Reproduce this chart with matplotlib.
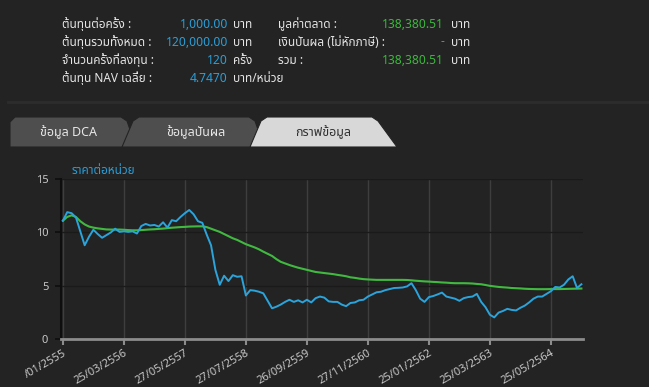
import matplotlib
matplotlib.use("Agg")
import matplotlib.pyplot as plt
from matplotlib import font_manager
from matplotlib.ft2font import FT2Font
from matplotlib.patches import Polygon

# ---- data ----
price = [11.1, 11.9, 11.8, 11.4, 10.1, 8.8, 9.6, 10.25, 9.85, 9.5,
         9.75, 10.0, 10.35, 10.05, 10.1, 10.05, 10.1, 9.9, 10.6, 10.8,
         10.65, 10.7, 10.55, 10.95, 10.45, 11.15, 11.05, 11.45, 11.8, 12.1,
         11.7, 11.05, 10.9, 9.8, 8.8, 6.5, 5.1, 5.95, 5.45, 6.0,
         5.85, 5.9, 4.1, 4.6, 4.55, 4.45, 4.3, 3.6, 2.9, 3.05,
         3.25, 3.5, 3.7, 3.5, 3.65, 3.45, 3.7, 3.45, 3.85, 4.0,
         3.9, 3.55, 3.5, 3.5, 3.25, 3.1, 3.4, 3.45, 3.65, 3.7,
         4.0, 4.2, 4.4, 4.45, 4.6, 4.7, 4.8, 4.82, 4.85, 4.95,
         5.25, 4.6, 3.8, 3.5, 3.95, 4.05, 4.2, 4.37, 4.0, 3.9,
         3.8, 3.6, 3.85, 3.95, 4.0, 4.25, 3.5, 3.0, 2.3, 2.05,
         2.5, 2.65, 2.85, 2.75, 2.7, 2.95, 3.15, 3.45, 3.8, 4.0,
         4.0, 4.25, 4.5, 4.9, 4.85, 5.1, 5.6, 5.9, 4.8, 5.15]

avg_cost = [11.1, 11.45, 11.6, 11.45, 11.05, 10.75, 10.55, 10.45, 10.38, 10.33,
            10.28, 10.27, 10.27, 10.27, 10.25, 10.22, 10.2, 10.2, 10.22, 10.25,
            10.28, 10.3, 10.33, 10.36, 10.4, 10.44, 10.47, 10.5, 10.52, 10.55,
            10.56, 10.57, 10.57, 10.5, 10.35, 10.2, 10.05, 9.85, 9.65, 9.45,
            9.3, 9.1, 8.9, 8.75, 8.6, 8.42, 8.2, 8.0, 7.8, 7.5,
            7.25, 7.1, 6.95, 6.82, 6.7, 6.6, 6.5, 6.4, 6.3, 6.25,
            6.2, 6.15, 6.1, 6.03, 5.97, 5.9, 5.8, 5.75, 5.68, 5.63,
            5.6, 5.58, 5.56, 5.56, 5.56, 5.56, 5.56, 5.56, 5.56, 5.55,
            5.52, 5.48, 5.45, 5.42, 5.4, 5.37, 5.35, 5.32, 5.3, 5.27,
            5.25, 5.25, 5.25, 5.24, 5.22, 5.18, 5.15, 5.08, 5.0, 4.95,
            4.9, 4.87, 4.84, 4.8, 4.78, 4.76, 4.73, 4.71, 4.7, 4.69,
            4.69, 4.69, 4.7, 4.7, 4.7, 4.71, 4.72, 4.73, 4.74, 4.75]

tick_idx = [0, 14, 28, 42, 56, 70, 84, 98, 112]
tick_labels = ["/01/2555", "25/03/2556", "27/05/2557", "27/07/2558", "26/09/2559",
               "27/11/2560", "25/01/2562", "25/03/2563", "25/05/2564"]

left_labels = ["ต้นทุนต่อครั้ง :", "ต้นทุนรวมทั้งหมด :", "จำนวนครั้งที่ลงทุน :", "ต้นทุน NAV เฉลี่ย :"]
left_values = ["1,000.00", "120,000.00", "120", "4.7470"]
left_units = ["บาท", "บาท", "ครั้ง", "บาท/หน่วย"]
right_labels = ["มูลค่าตลาด :", "เงินปันผล (ไม่หักภาษี) :", "รวม :"]
right_values = ["138,380.51", "-", "138,380.51"]
right_colors = ["#3cb83c", "#2a9fd8", "#3cb83c"]
tabs = ["ข้อมูล DCA", "ข้อมูลปันผล", "กราฟข้อมูล"]


def find_thai_font():
    prefer = ["Tahoma", "Noto Sans Thai", "Noto Sans Thai UI", "Leelawadee UI",
              "Loma", "Garuda", "Sarabun", "Waree", "Umpush", "Kinnari", "Norasi"]
    found = {}
    for f in font_manager.fontManager.ttflist:
        if f.name in found:
            continue
        try:
            cmap = FT2Font(f.fname).get_charmap()
        except Exception:
            continue
        if 0x0E01 in cmap and 0x0E49 in cmap:
            found[f.name] = f.fname
    for p in prefer:
        if p in found:
            return p
    return next(iter(found), None)


thai = find_thai_font()
fams = [thai, "DejaVu Sans"] if thai else ["DejaVu Sans"]
plt.rcParams["font.family"] = fams

BG = "#232323"
W, H = 649, 387
fig = plt.figure(figsize=(W / 100, H / 100), dpi=100, facecolor=BG)

# overlay in pixel coords for the info panel and tabs
ov = fig.add_axes([0, 0, 1, 1])
ov.set_xlim(0, W)
ov.set_ylim(H, 0)
ov.axis("off")

rows = [24, 42, 60, 78]
for i, y in enumerate(rows):
    ov.text(62, y, left_labels[i], color="#e6e6e6", fontsize=8.5, va="center")
    ov.text(228, y, left_values[i], color="#2a9fd8", fontsize=8.7, va="center", ha="right")
    ov.text(233, y, left_units[i], color="#e6e6e6", fontsize=8.5, va="center")
for i, y in enumerate(rows[:3]):
    ov.text(278, y, right_labels[i], color="#e6e6e6", fontsize=8.5, va="center")
    ov.text(444, y, right_values[i], color=right_colors[i], fontsize=8.7, va="center", ha="right")
    ov.text(451, y, "บาท", color="#e6e6e6", fontsize=8.5, va="center")

ov.plot([8, W], [102, 102], color="#2c2c2c", lw=2)

# tabs (bottom-left, top-left, top-right, bottom-right)
tab_shapes = [
    [(10, 147), (10, 122), (15, 117), (121, 117), (127, 121), (136, 147)],
    [(122, 147), (133, 121), (139, 117), (249, 117), (255, 121), (264, 147)],
    [(250, 147), (261, 121), (267, 117), (372, 117), (378, 121), (397, 147)],
]
tab_fill = ["#4e4e4e", "#4e4e4e", "#d8d8d8"]
tab_text = ["#e8e8e8", "#e8e8e8", "#303030"]
tab_cx = [69, 196, 323]
for k in range(3):
    ov.add_patch(Polygon(tab_shapes[k], closed=True, facecolor=tab_fill[k],
                         edgecolor=BG, lw=0.8))
    ov.text(tab_cx[k], 132, tabs[k], color=tab_text[k], fontsize=9,
            ha="center", va="center")

ov.text(72, 171, "ราคาต่อหน่วย", color="#2a9fd8", fontsize=8.5,
        fontweight="bold", va="center")

# chart
ax = fig.add_axes([60.7 / W, 1 - 339.3 / H, 522 / W, 160.3 / H])
ax.set_facecolor(BG)
x = list(range(len(price)))
ax.plot(x, avg_cost, color="#41b941", lw=1.5, zorder=3)
ax.plot(x, price, color="#2ba4dc", lw=1.4, zorder=4)

ax.set_xlim(-0.5, 119.3)
ax.set_ylim(0, 15)
ax.set_yticks([0, 5, 10, 15])
ax.set_xticks(tick_idx)
ax.set_xticklabels(tick_labels, rotation=30, ha="right", rotation_mode="anchor")

for t in tick_idx:
    ax.axvline(t, color="#3e3e3e", lw=1, zorder=1)
for v in [5, 10, 15]:
    ax.axhline(v, color="#1a1a1a", lw=1, zorder=1)

for s in ["top", "right"]:
    ax.spines[s].set_visible(False)
ax.spines["left"].set_color("#0e0e0e")
ax.spines["left"].set_linewidth(1.5)
ax.spines["bottom"].set_color("#8c8c8c")
ax.spines["bottom"].set_linewidth(2)

ax.tick_params(axis="x", colors="#8c8c8c", length=4, width=1.5, pad=2,
               labelcolor="#c8c8c8", labelsize=8)
ax.tick_params(axis="y", colors="#0e0e0e", length=4, width=1.2, pad=5,
               labelcolor="#c8c8c8", labelsize=8)

fig.savefig("out.png", dpi=100, facecolor=BG)
